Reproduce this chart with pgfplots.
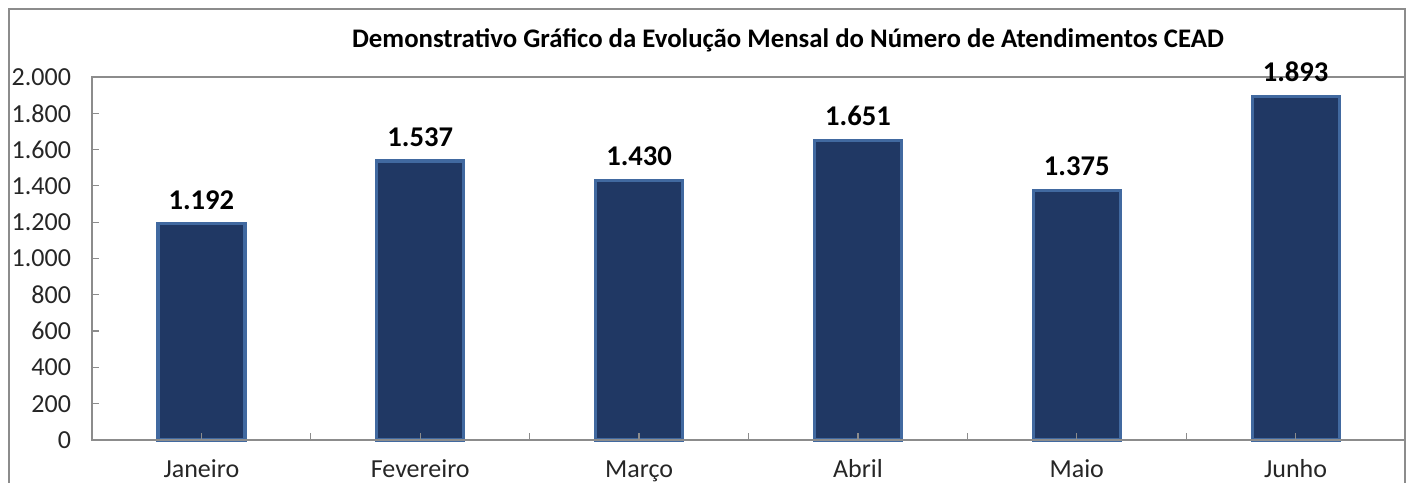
\documentclass[border=0pt]{standalone}
\usepackage{fontspec}
\setmainfont{Carlito}
\usepackage{pgfplots}
\pgfplotsset{compat=1.18}
\usetikzlibrary{calc}
\definecolor{barfill}{RGB}{32,56,100}
\definecolor{barline}{RGB}{65,105,160}
\definecolor{axgray}{RGB}{140,140,140}

\begin{document}
\begin{tikzpicture}
  \begin{axis}[
    name=ax,
    scale only axis,
    width=656.5pt, height=181.5pt,
    ybar, bar width=43.5pt,
    xmin=-0.5, xmax=5.5,
    ymin=0, ymax=2000,
    ytick={0,200,...,2000},
    xtick={0,...,5},
    xticklabels={Janeiro,Fevereiro,Março,Abril,Maio,Junho},
    extra x ticks={0.5,1.5,2.5,3.5,4.5},
    extra x tick labels={},
    extra x tick style={tick style={axgray}},
    xtick pos=bottom, ytick pos=left,
    tick align=inside,
    major tick length=3.5pt,
    tick style={axgray, line width=0.6pt},
    axis line style={axgray, line width=0.8pt},
    axis on top,
    /pgf/number format/.cd, 1000 sep={.}, assume math mode=true,
    /pgfplots/.cd,
    yticklabel style={font=\fontsize{13}{15}\selectfont, text=black!85, xshift=-7pt},
    xticklabel style={font=\fontsize{13}{15}\selectfont, text=black!85, yshift=-7.5pt,
      text height=1.6ex, text depth=0.4ex},
    nodes near coords,
    every node near coord/.append style={font=\bfseries\fontsize{14.3}{16}\selectfont, text=black, yshift=3pt},
    clip=false,
  ]
    \addplot[fill=barfill, draw=barline, line width=1.6pt] coordinates {
      (0,1192) (1,1537) (2,1430) (3,1651) (4,1375) (5,1893)
    };
  \end{axis}
  \node[font=\bfseries\fontsize{13.4}{15}\selectfont] at ($(ax.north west)+(348pt,18.5pt)$)
    {Demonstrativo Gráfico da Evolução Mensal do Número de Atendimentos CEAD};
  \draw[axgray, line width=0.8pt] ($(ax.south west)+(-41.5pt,-30pt)$) -- ($(ax.north west)+(-41.5pt,34pt)$)
    -- ($(ax.north east)+(0pt,34pt)$) -- ($(ax.south east)+(0pt,-30pt)$);
  \pgfresetboundingbox
  \path[use as bounding box] ($(ax.south west)+(-46pt,-21.5pt)$) rectangle ($(ax.north east)+(3pt,38.5pt)$);
\end{tikzpicture}
\end{document}
